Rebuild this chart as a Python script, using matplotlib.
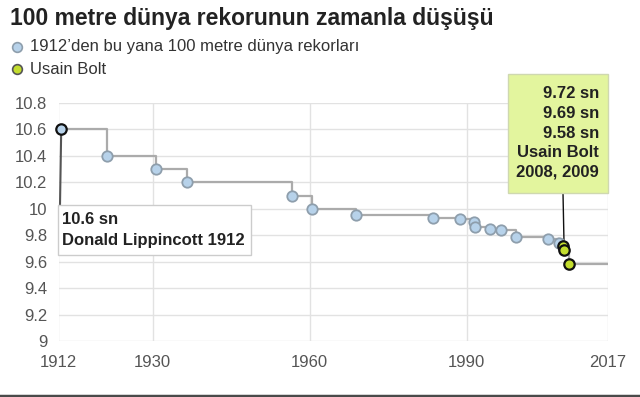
import matplotlib
matplotlib.use("Agg")
import matplotlib.pyplot as plt
from matplotlib.lines import Line2D
from matplotlib.patches import Rectangle

# World record progression, 100 m (men), date as fractional year
record_years = [1912.52, 1921.31, 1930.60, 1936.47, 1956.59, 1960.47, 1968.79,
                1983.51, 1988.74, 1991.45, 1991.65, 1994.52, 1996.57, 1999.46,
                2005.45, 2007.69]
record_times = [10.6, 10.4, 10.3, 10.2, 10.1, 10.0, 9.95,
                9.93, 9.92, 9.90, 9.86, 9.85, 9.84, 9.79,
                9.77, 9.74]

bolt_years = [2008.41, 2008.62, 2009.62]
bolt_times = [9.72, 9.69, 9.58]

x_ticks = [1912, 1930, 1960, 1990, 2017]
y_ticks = [9, 9.2, 9.4, 9.6, 9.8, 10, 10.2, 10.4, 10.6, 10.8]
y_tick_labels = ["9", "9.2", "9.4", "9.6", "9.8", "10", "10.2", "10.4", "10.6", "10.8"]

title = "100 metre dünya rekorunun zamanla düşüşü"
legend_records = "1912’den bu yana 100 metre dünya rekorları"
legend_bolt = "Usain Bolt"
note_first = "10.6 sn\nDonald Lippincott 1912"
note_bolt = "9.72 sn\n9.69 sn\n9.58 sn\nUsain Bolt\n2008, 2009"

BLUE = "#b7d2ea"
BLUE_EDGE = "#8e9eac"
GREEN = "#c3dd2e"
GREEN_BOX = "#e3f59e"
GRID = "#e2e2e2"

W, H = 640, 397


def fx(px):
    return px / W


def fy(py):
    return 1 - py / H


def main():
    plt.rcParams["font.family"] = ["Liberation Sans", "DejaVu Sans"]

    fig = plt.figure(figsize=(6.4, 3.97), dpi=100)
    ax = fig.add_axes([fx(58.5), fy(341), fx(608) - fx(58.5), fy(103) - fy(341)])

    ax.set_xlim(x_ticks[0], x_ticks[-1])
    ax.set_ylim(y_ticks[0], y_ticks[-1])
    ax.set_xticks(x_ticks)
    ax.set_xticklabels([str(v) for v in x_ticks])
    ax.set_yticks(y_ticks)
    ax.set_yticklabels(y_tick_labels)
    ax.tick_params(axis="both", length=0, labelsize=12, labelcolor="#555555")
    ax.tick_params(axis="y", pad=8)
    ax.tick_params(axis="x", pad=10)
    for s in ax.spines.values():
        s.set_visible(False)
    ax.grid(True, color=GRID, linewidth=1)
    ax.set_axisbelow(True)

    # step line through all records, held to the end of the axis
    all_x = record_years + bolt_years + [x_ticks[-1]]
    all_y = record_times + bolt_times + [bolt_times[-1]]
    ax.step(all_x, all_y, where="post", color="#ababab", linewidth=1.6, zorder=2)

    ax.plot(record_years[1:], record_times[1:], "o", ms=7.5, mfc=BLUE,
            mec=BLUE_EDGE, mew=1.3, zorder=4, clip_on=False)
    ax.plot(record_years[:1], record_times[:1], "o", ms=7.5, mfc=BLUE,
            mec="#111111", mew=1.6, zorder=5, clip_on=False)
    ax.plot(bolt_years, bolt_times, "o", ms=7.5, mfc=GREEN,
            mec="#111111", mew=1.6, zorder=5, clip_on=False)

    # connector lines to the note boxes
    ax.annotate("", xy=(record_years[0], record_times[0]), xycoords="data",
                xytext=(fx(60), fy(205)), textcoords="figure fraction",
                arrowprops=dict(arrowstyle="-", color="#555555", lw=1.5,
                                shrinkA=0, shrinkB=0), zorder=3)
    ax.annotate("", xy=(bolt_years[1], bolt_times[1]), xycoords="data",
                xytext=(fx(563), fy(193)), textcoords="figure fraction",
                arrowprops=dict(arrowstyle="-", color="#111111", lw=1,
                                shrinkA=0, shrinkB=0), zorder=3)

    # note boxes
    fig.add_artist(Rectangle((fx(58), fy(255)), fx(251) - fx(58), fy(205) - fy(255),
                             transform=fig.transFigure, facecolor="white",
                             edgecolor="#cccccc", linewidth=1, zorder=6))
    fig.text(fx(62), fy(230), note_first, ha="left", va="center", fontsize=12,
             fontweight="bold", color="#222222", linespacing=1.45, zorder=7)

    fig.add_artist(Rectangle((fx(508), fy(193)), fx(608) - fx(508), fy(74) - fy(193),
                             transform=fig.transFigure, facecolor=GREEN_BOX,
                             edgecolor="#cfd8b0", linewidth=1, zorder=6))
    fig.text(fx(599), fy(133), note_bolt, ha="right", va="center", fontsize=12,
             fontweight="bold", color="#222222", linespacing=1.38, zorder=7)

    # title and legend
    fig.text(fx(10), fy(18), title, ha="left", va="center", fontsize=16.5,
             fontweight="bold", color="#222222")
    fig.add_artist(Line2D([fx(17)], [fy(47)], marker="o", ms=7, mfc=BLUE,
                          mec=BLUE_EDGE, mew=1.2, transform=fig.transFigure))
    fig.add_artist(Line2D([fx(17)], [fy(69)], marker="o", ms=7, mfc=GREEN,
                          mec="#555555", mew=1.2, transform=fig.transFigure))
    fig.text(fx(30), fy(47), legend_records, ha="left", va="center",
             fontsize=12, color="#333333")
    fig.text(fx(30), fy(69), legend_bolt, ha="left", va="center",
             fontsize=12, color="#333333")

    # bottom rule
    fig.add_artist(Line2D([0, 1], [fy(396), fy(396)], color="#4a4a4a",
                          linewidth=2.5, transform=fig.transFigure))

    fig.savefig("out.png", dpi=100, facecolor="white")


if __name__ == "__main__":
    main()
